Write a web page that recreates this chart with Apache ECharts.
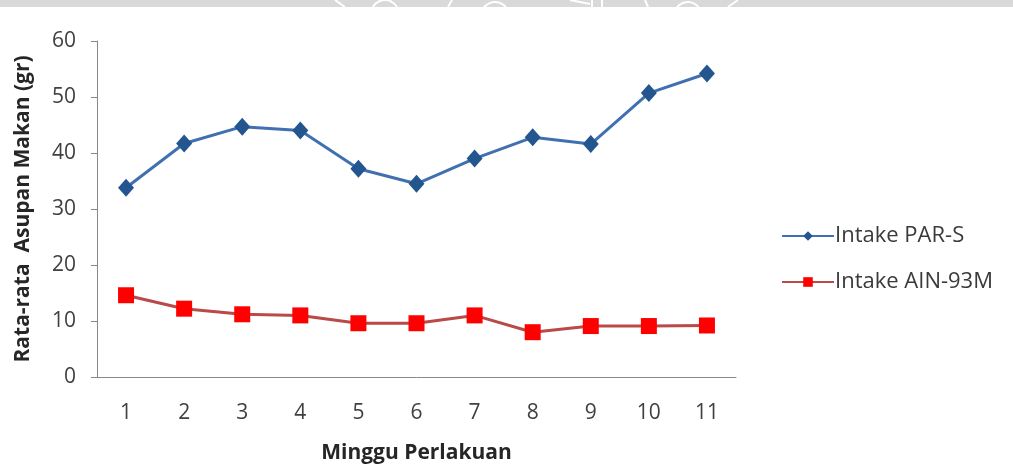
<!DOCTYPE html>
<html>
<head>
<meta charset="utf-8">
<script src="https://cdn.jsdelivr.net/npm/echarts@6/dist/echarts.min.js"></script>
<style>
  html, body { margin: 0; padding: 0; background: #fff; }
  #chart { width: 1013px; height: 466px; }
</style>
</head>
<body>
<div id="chart"></div>
<script>
// Weekly average food intake (grams) for the two diets
const weeks = ['1', '2', '3', '4', '5', '6', '7', '8', '9', '10', '11'];
const intakeParS = [33.8, 41.7, 44.7, 44.0, 37.2, 34.5, 39.0, 42.8, 41.6, 50.7, 54.2];
const intakeAin93m = [14.6, 12.2, 11.2, 11.0, 9.6, 9.6, 11.0, 8.0, 9.1, 9.1, 9.2];
const yTicks = { min: 0, max: 60, interval: 10 };

const FONT = '"Open Sans", "DejaVu Sans", sans-serif';
const chart = echarts.init(document.getElementById('chart'), null, { renderer: 'canvas' });

// white strokes of the emblem in the grey header strip
const emblemStroke = { stroke: '#ffffff', lineWidth: 2, fill: null };
const emblem = [
  { type: 'polyline', shape: { points: [[335, 0], [345, 7]] } },
  { type: 'arc', shape: { cx: 385, cy: 14, r: 14, startAngle: Math.PI * 1.15, endAngle: Math.PI * 1.85 } },
  { type: 'polyline', shape: { points: [[448, 7], [452, 0]] } },
  { type: 'arc', shape: { cx: 495, cy: 16, r: 14, startAngle: Math.PI * 1.1, endAngle: Math.PI * 1.9 } },
  { type: 'polyline', shape: { points: [[570, 0], [590, 4]] } },
  { type: 'polyline', shape: { points: [[592, 0], [592, 7]] } },
  { type: 'polyline', shape: { points: [[602, 0], [602, 7]] } },
  { type: 'polyline', shape: { points: [[645, 0], [648, 7]] } },
  { type: 'arc', shape: { cx: 688, cy: 16, r: 14, startAngle: Math.PI * 1.15, endAngle: Math.PI * 1.85 } },
  { type: 'polyline', shape: { points: [[728, 7], [738, 0]] } }
].map(el => Object.assign(el, { style: emblemStroke, z: 101 }));

chart.setOption({
  backgroundColor: '#ffffff',
  animation: false,
  grid: { left: 97, right: 277, top: 41, bottom: 89, containLabel: false, outerBoundsMode: 'none' },
  graphic: [
    { type: 'rect', shape: { x: 0, y: 0, width: 1013, height: 7 }, style: { fill: '#d9d9d9' }, z: 100 }
  ].concat(emblem),
  legend: {
    orient: 'vertical',
    left: 776,
    top: 220,
    itemWidth: 52,
    itemHeight: 12,
    itemGap: 24,
    textStyle: { fontFamily: FONT, fontSize: 22, color: '#3a3a3a', padding: [0, 0, 0, -4] },
    data: ['Intake PAR-S', 'Intake AIN-93M']
  },
  xAxis: {
    type: 'category',
    data: weeks,
    boundaryGap: true,
    name: 'Minggu Perlakuan',
    nameLocation: 'middle',
    nameGap: 66,
    nameTextStyle: { fontFamily: FONT, fontSize: 21, fontWeight: 'bold', color: '#262626' },
    axisLine: { lineStyle: { color: '#888888', width: 1 } },
    axisTick: { show: false },
    axisLabel: { fontFamily: FONT, fontSize: 21, color: '#404040', margin: 26 }
  },
  yAxis: {
    type: 'value',
    min: yTicks.min,
    max: yTicks.max,
    interval: yTicks.interval,
    name: 'Rata-rata  Asupan Makan (gr)',
    nameLocation: 'middle',
    nameRotate: 90,
    nameGap: 63,
    nameTextStyle: { fontFamily: FONT, fontSize: 21, fontWeight: 'bold', color: '#262626' },
    axisLine: { show: true, lineStyle: { color: '#888888', width: 1 } },
    axisTick: { show: true, length: 6, lineStyle: { color: '#888888' } },
    splitLine: { show: false },
    axisLabel: { fontFamily: FONT, fontSize: 21, color: '#404040', margin: 21 }
  },
  series: [
    {
      name: 'Intake PAR-S',
      type: 'line',
      data: intakeParS,
      symbol: 'diamond',
      symbolSize: [16, 18],
      lineStyle: { color: '#4170b0', width: 3 },
      itemStyle: { color: '#23558f', borderWidth: 0 },
      z: 3
    },
    {
      name: 'Intake AIN-93M',
      type: 'line',
      data: intakeAin93m,
      symbol: 'rect',
      symbolSize: 16,
      lineStyle: { color: '#b94a48', width: 3 },
      itemStyle: { color: '#ff0000', borderWidth: 0 },
      z: 2
    }
  ]
});
</script>
</body>
</html>
